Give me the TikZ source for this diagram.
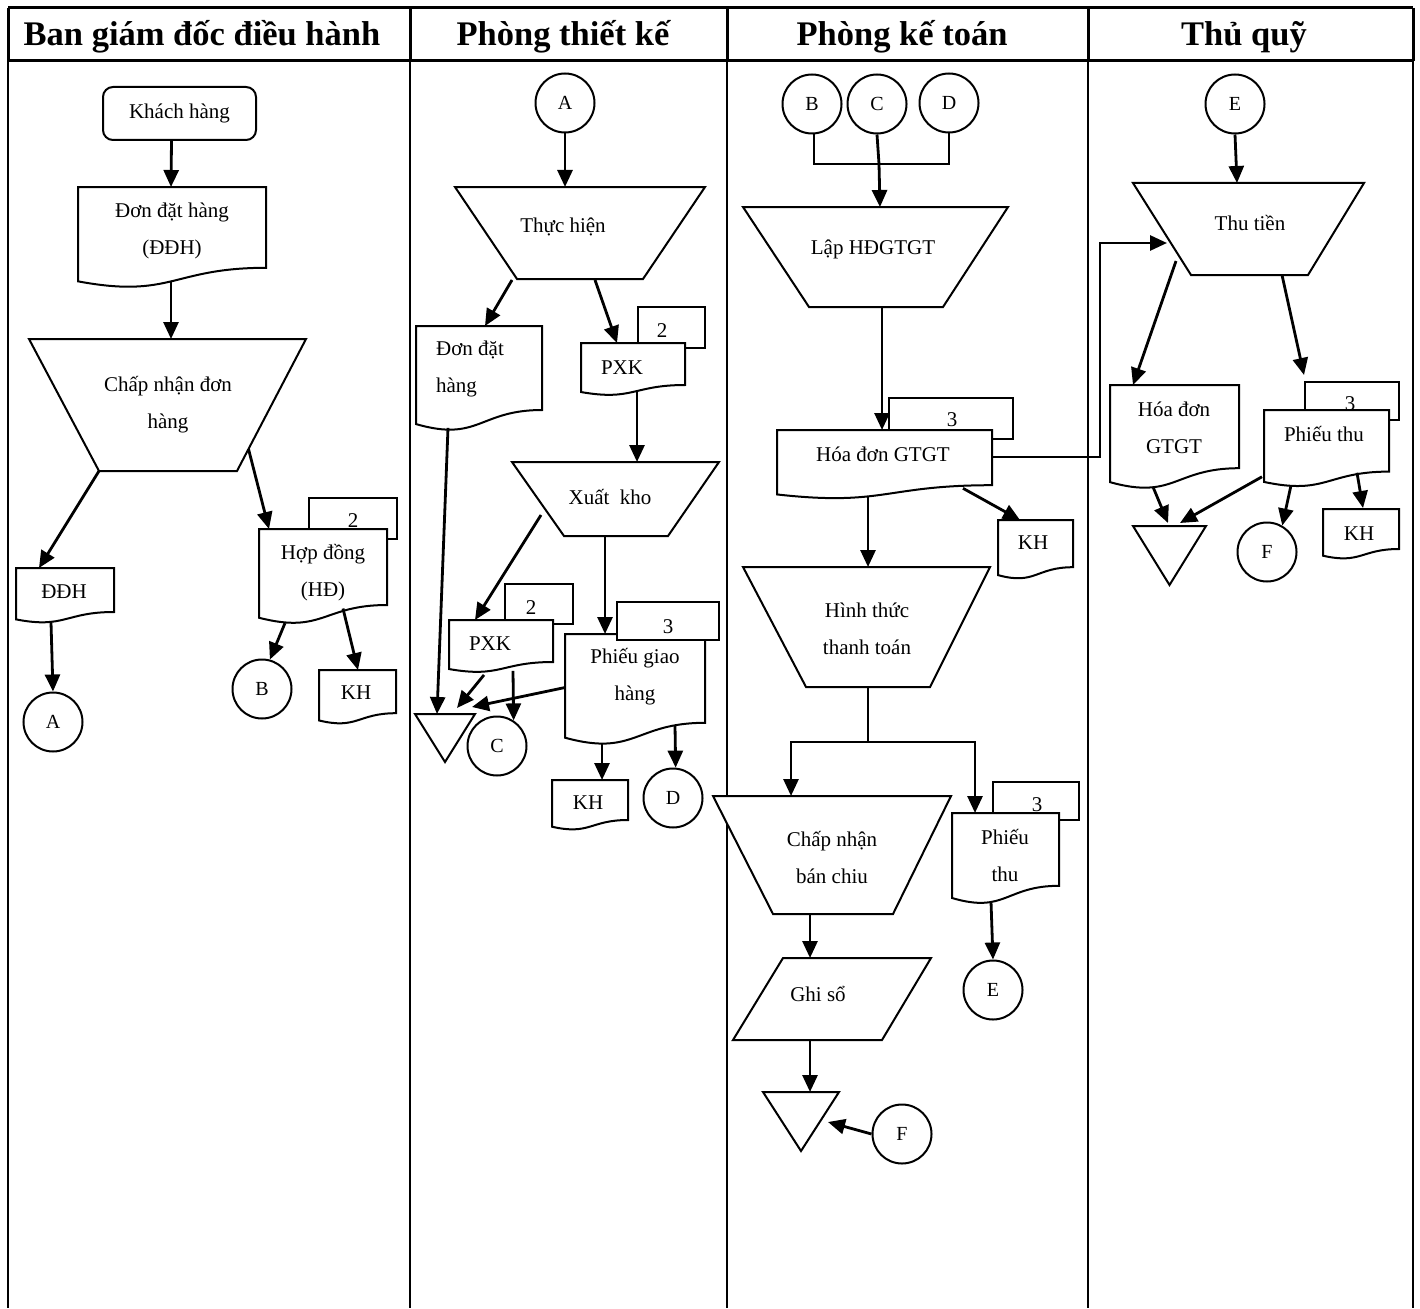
\documentclass[tikz,border=0pt]{standalone}
\usepackage{fontspec}
\setmainfont{Liberation Serif}
\usetikzlibrary{arrows.meta,calc,fit}
\tikzset{
  shp/.style={line width=2pt, line join=miter},
  box/.style={draw=none, inner sep=0pt, outer sep=0pt, rectangle},
  txt/.style={font=\fontsize{21}{37}\selectfont, align=center, inner sep=0pt},
  conn/.style={circle, draw, fill=white, line width=2pt, minimum size=59pt, inner sep=0pt, font=\fontsize{20}{24}\selectfont},
  arr/.style={line width=2.8pt, -{Triangle[length=17pt,width=15pt]}},
  ln/.style={line width=2.2pt},
  hdr/.style={font=\bfseries\fontsize{34.5}{40}\selectfont, inner sep=0pt, anchor=base},
  backrect/.style={draw, fill=white, line width=2pt, inner sep=0pt},
  term/.style={draw, fill=white, rounded corners=10pt, line width=2pt, inner sep=0pt, font=\fontsize{21}{26}\selectfont},
  tblthick/.style={line width=3pt},
  tbl/.style={line width=2pt}
}
% document shape: name, x-left, x-right, top, nominal height
\newcommand\docu[5]{%
  \pgfmathsetmacro\dxc{(#2+#3)/2}%
  \pgfmathsetmacro\dya{#4+0.8*#5}%
  \pgfmathsetmacro\dyb{#4+1.108*#5}%
  \pgfmathsetmacro\dyc{#4+0.934*#5}%
  \pgfmathsetmacro\dyd{#4+0.932*#5}%
  \draw[shp, fill=white] (#2,#4) -- (#3,#4) -- (#3,\dya) .. controls (\dxc,\dya) and (\dxc,\dyb) .. (#2,\dyc) -- cycle;
  \node[box, fit={(#2,#4) (#3,\dyd)}] (#1) {};}
% inverted trapezoid: name, top-left x, top-right x, top y, bottom y, bottom-left x, bottom-right x
\newcommand\trapz[7]{%
  \draw[shp, fill=white] (#2,#4) -- (#3,#4) -- (#7,#5) -- (#6,#5) -- cycle;
  \node[box, fit={(#2,#4) (#3,#5)}] (#1) {};}
% down triangle: name, x-left, x-right, top y, apex y
\newcommand\trian[5]{%
  \draw[shp, fill=white] (#2,#4) -- (#3,#4) -- ({(#2+#3)/2},#5) -- cycle;
  \node[box, fit={(#2,#4) (#3,#5)}] (#1) {};}
% parallelogram: name, top-left x, top-right x, top y, bottom-left x, bottom-right x, bottom y
\newcommand\parall[7]{%
  \draw[shp, fill=white] (#2,#4) -- (#3,#4) -- (#6,#7) -- (#5,#7) -- cycle;
  \node[box, fit={(#5,#4) (#3,#7)}] (#1) {};}

\begin{document}
\begin{tikzpicture}[x=1pt,y=-1pt]
\fill[white] (0,0) rectangle (1420,1308);
\useasboundingbox (0,0) rectangle (1420,1308);

% ---------- table ----------
\draw[tblthick] (8,8) -- (1413,8) (8,61) -- (1413,61);
\foreach \x in {8,410,727,1088,1413} {
  \draw[tblthick] (\x,8) -- (\x,61);
  \draw[tbl] (\x,61) -- (\x,1308);
}
\node[hdr] (h1) at (202,46) {Ban giám đốc điều hành};
\node[hdr] (h2) at (563,46) {Phòng thiết kế};
\node[hdr] (h3) at (902,46) {Phòng kế toán};
\node[hdr] (h4) at (1244,46) {Thủ quỹ};

% ---------- column 1 ----------
\node[term, minimum width=153pt, minimum height=53pt] (kh) at (179.5,113.5) {Khách hàng};
\docu{ddh1}{78}{266}{187}{101}
\node[txt] (ddh1t) at (172,230.5) {Đơn đặt hàng\\(ĐĐH)};
\draw[arr] ($(kh.south)+(-8,0)$) -- ($(ddh1.north)+(-1,0)$);
\trapz{cn1}{29}{306}{339}{471}{99}{237}
\node[txt] (cn1t) at (168,404.5) {Chấp nhận đơn\\hàng};
\draw[arr] ($(ddh1.south)+(-1,0)$) -- ($(cn1.north)+(3.5,0)$);
\docu{ddh2}{16}{114}{568}{55}
\node[txt] (ddh2t) at (64,592) {ĐĐH};
\draw[arr] ($(cn1.south west)+(70,0)$) -- ($(ddh2.north west)+(23,0)$);
\node[conn] (a1) at (53,722) {A};
\draw[arr] ($(ddh2.south)+(-14,3)$) -- (a1.north);
\node[backrect, minimum width=88pt, minimum height=41pt] (hd2) at (353,518.5) {};
\node[txt] (hd2t) at (353,521) {2};
\docu{hd}{259}{387}{529}{95}
\node[txt] (hdt) at (323,573) {Hợp đồng\\(HĐ)};
\draw[arr] ($(cn1.south east)+(-57.5,-22)$) -- ($(hd.north west)+(10,0)$);
\node[conn] (b1) at (262,689) {B};
\draw[arr] ($(hd.south)+(-38,5.5)$) -- (b1.75);
\docu{kh1}{319}{396}{670}{54}
\node[txt] (kh1t) at (356,693) {KH};
\draw[arr] ($(hd.south)+(20,-9)$) -- ($(kh1.north west)+(39,0)$);

% ---------- column 2 ----------
\node[conn] (a2) at (565,103) {A};
\trapz{th}{455}{705}{187}{279}{517}{643}
\node[txt] (tht) at (563,227) {Thực hiện};
\draw[arr] (a2.south) -- ($(th.north)+(-15,0)$);
\docu{dd2}{416}{542}{326}{105}
\node[txt, align=left] (dd2t) at (470,368.5) {Đơn đặt\\hàng};
\draw[arr] ($(th.south west)+(57,1)$) -- ($(dd2.north west)+(69,0)$);
\node[backrect, minimum width=67pt, minimum height=41pt] (pxk1b) at (671.5,327.5) {};
\node[txt] (pxk1bt) at (662,331) {2};
\docu{pxk1}{581}{685}{343}{52.5}
\node[txt] (pxk1t) at (622,368) {PXK};
\draw[arr] ($(th.south east)+(-110,1)$) -- ($(pxk1.north west)+(36,0)$);
\trapz{xk}{512}{719}{462}{536}{564}{668}
\node[txt] (xkt) at (610,497) {Xuất~~kho};
\draw[arr] ($(pxk1.south)+(4,0)$) -- ($(xk.north)+(21.5,0)$);
\trian{tri2}{415}{475}{714}{762}
\draw[arr] ($(dd2.south)+(-31,4)$) -- ($(tri2.north west)+(22,0)$);
\node[backrect, minimum width=68pt, minimum height=40pt] (pxk2b) at (539,604) {};
\node[txt] (pxk2bt) at (531,608) {2};
\docu{pxk2}{449}{553}{620}{52.5}
\node[txt] (pxk2t) at (490,644) {PXK};
\draw[arr] ($(xk.south west)+(29,-21)$) -- ($(pxk2.north west)+(26,0)$);
\docu{pgh}{565}{705}{634}{111}
\node[txt] (pght) at (635,676.5) {Phiếu giao\\hàng};
\node[backrect, minimum width=102pt, minimum height=38pt] (pghb) at (668,621) {};
\node[txt] (pghbt) at (668,627) {3};
\draw[arr] ($(xk.south)+(-10.5,0)$) -- ($(pgh.north west)+(40,0)$);
\draw[arr] ($(pxk2.south)+(-17,6)$) -- ($(tri2.north)+(12,-6)$);
\draw[arr] ($(pgh.west)+(-1,2)$) -- ($(tri2.north)+(27,-7)$);
\node[conn] (c2) at (497,746) {C};
\draw[arr] ($(pxk2.south)+(12,2)$) -- (c2.57);
\docu{kh2}{552}{628}{780}{50}
\node[txt] (kh2t) at (588,803) {KH};
\draw[arr] ($(pgh.south)+(-33,6)$) -- ($(kh2.north west)+(50,0)$);
\node[conn] (d2) at (673,798) {D};
\draw[arr] ($(pgh.south)+(40,-12)$) -- (d2.85);

% ---------- column 3 ----------
\node[conn] (b3) at (812,104) {B};
\node[conn] (c3) at (877,104) {C};
\node[conn] (d3) at (949,103) {D};
\trapz{lap}{743}{1008}{207}{307}{809}{943}
\node[txt] (lapt) at (873,249) {Lập HĐGTGT};
\draw[ln] ($(b3.south)+(2,0)$) -- ($(b3.south)+(2,29.5)$) -| (d3.south);
\draw[arr] (c3.south) -- ($(c3.south)+(2,29.5)$) -- ($(lap.north)+(4.5,0)$);
\node[backrect, minimum width=124pt, minimum height=41pt] (hdgb) at (951,418.5) {};
\node[txt] (hdgbt) at (952,420) {3};
\docu{hdg}{777}{992}{430}{69}
\node[txt] (hdgt) at (883,454) {Hóa đơn GTGT};
\draw[arr] ($(lap.south)+(6.5,0)$) -- ($(hdg.north west)+(105,0)$);
\docu{kh3}{998}{1073}{520}{59}
\node[txt] (kh3t) at (1033,543) {KH};
\draw[arr] ($(hdg.south)+(78.5,-6)$) -- ($(kh3.north west)+(22,0)$);
\trapz{htt}{743}{990}{567}{687}{806}{930}
\node[txt] (httt) at (867,629) {Hình thức\\thanh toán};
\draw[arr] ($(hdg.south)+(-16.5,2)$) -- ($(htt.north)+(1.5,0)$);
\coordinate (split) at ($(htt.south)+(1.5,55)$);
\draw[ln] ($(htt.south)+(1.5,0)$) -- (split);
\trapz{cnb}{713}{951}{796}{914}{773}{893}
\node[txt] (cnbt) at (832,857.5) {Chấp nhận\\bán chiu};
\node[backrect, minimum width=86pt, minimum height=38pt] (pt3b) at (1036,801) {};
\node[txt] (pt3bt) at (1037,805) {3};
\docu{pt3}{952}{1059}{813}{91}
\node[txt] (pt3t) at (1005,855.5) {Phiếu\\thu};
\draw[arr] (split) -| ($(cnb.north)+(-41,0)$);
\draw[arr] (split) -| ($(pt3.north west)+(23,0)$);
\node[conn] (e3) at (993,990) {E};
\draw[arr] ($(pt3.south)+(-14.5,4)$) -- (e3.north);
\parall{gs}{783}{931}{958}{733}{882}{1040}
\node[txt] (gst) at (818,994) {Ghi sổ};
\draw[arr] ($(cnb.south)+(-22,0)$) -- ($(gs.north)+(-22,0)$);
\trian{tri3}{763}{839}{1092}{1151}
\draw[arr] ($(gs.south)+(-22,0)$) -- ($(tri3.north)+(9,0)$);
\node[conn] (f3) at (902,1134) {F};
\draw[arr] (f3.west) -- ($(tri3.north east)+(-11,30)$);

% ---------- column 4 ----------
\node[conn] (e4) at (1235,104) {E};
\trapz{tt}{1133}{1364}{183}{275}{1191}{1308}
\node[txt] (ttt) at (1250,222.5) {Thu tiền};
\draw[arr] (e4.south) -- ($(tt.north)+(-11.5,0)$);
\draw[arr] ($(hdg.north east)+(0,27)$) -| ($(tt.north west)+(-33,60)$) -- ($(tt.north west)+(34,60)$);
\docu{hd4}{1110}{1239}{385}{104}
\node[txt] (hd4t) at (1174,427.6) {Hóa đơn\\GTGT};
\draw[arr] ($(tt.south west)+(43,-14)$) -- ($(hd4.north west)+(23,0)$);
\node[backrect, minimum width=94pt, minimum height=38pt] (pt4b) at (1352,401) {};
\node[txt] (pt4bt) at (1350,404) {3};
\docu{pt4}{1264}{1389}{410}{77}
\node[txt] (pt4t) at (1324,433.6) {Phiếu thu};
\draw[arr] ($(tt.south east)+(-82,0)$) -- ($(pt4b.north west)+(0,-6)$);
\trian{tri4}{1133}{1206}{526}{585}
\draw[arr] ($(hd4.south)+(-21.5,5)$) -- ($(tri4.north)+(-1.5,-3)$);
\draw[arr] ($(pt4.south west)+(-2,-5)$) -- ($(tri4.north)+(10.5,-3)$);
\node[conn] (f4) at (1267,552) {F};
\draw[arr] ($(pt4.south)+(-35.5,3.5)$) -- (f4.60);
\docu{kh4}{1323}{1399}{509}{50}
\node[txt] (kh4t) at (1359,533.5) {KH};
\draw[arr] ($(pt4.south)+(30.5,-9)$) -- ($(kh4.north west)+(40,-1)$);
\end{tikzpicture}
\end{document}
